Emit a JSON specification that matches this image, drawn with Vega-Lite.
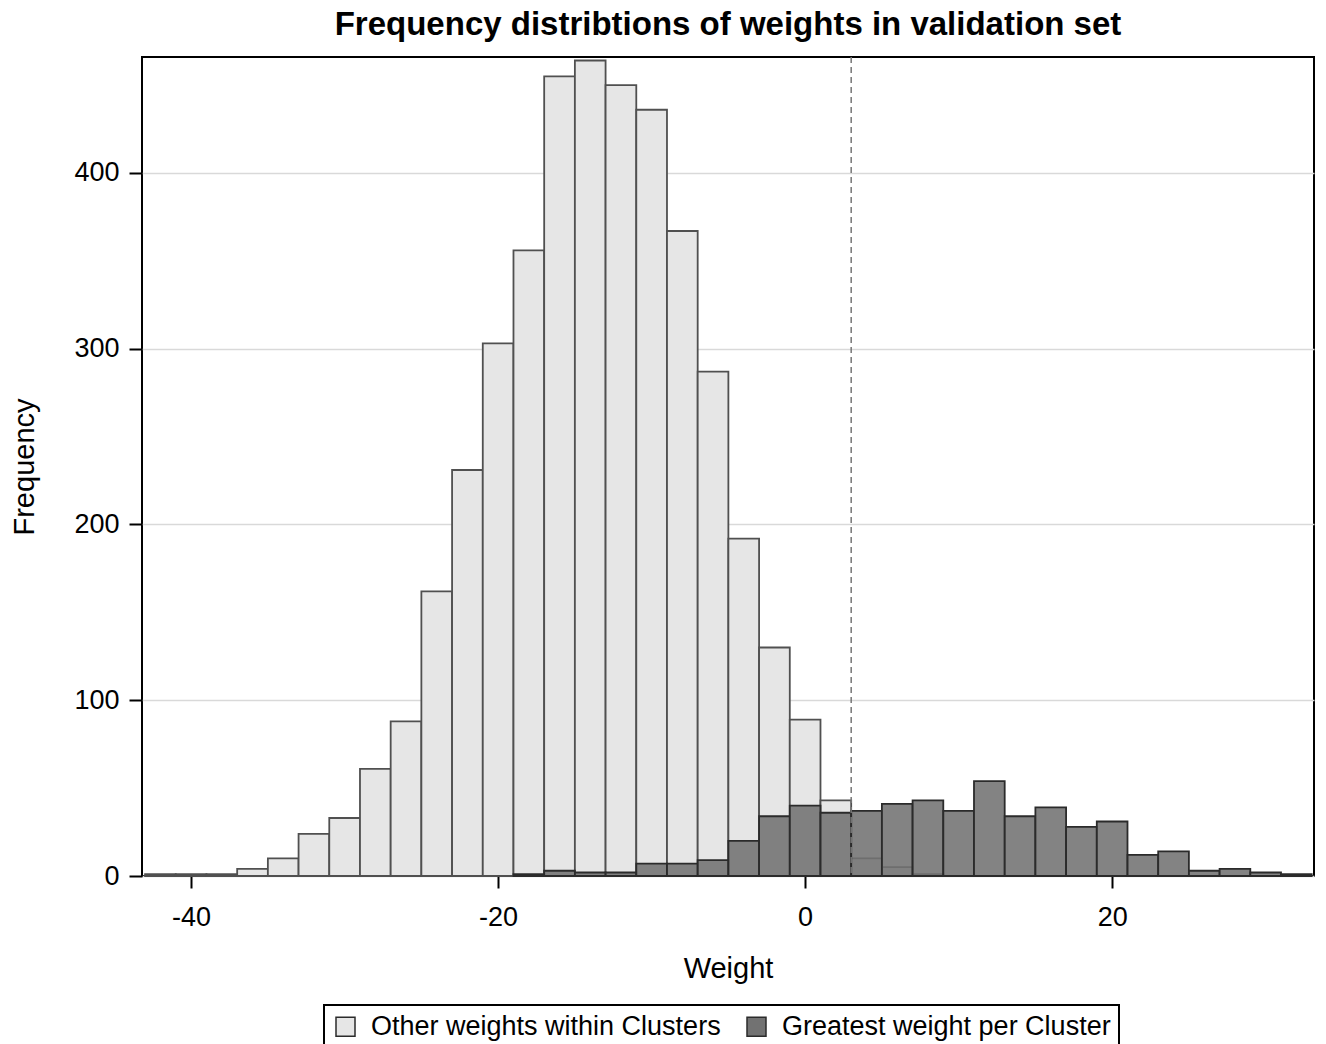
{
  "$schema": "https://vega.github.io/schema/vega-lite/v6.json",
  "width": 1172,
  "height": 819,
  "autosize": {"type": "none"},
  "padding": {"left": 142, "top": 57, "right": 12, "bottom": 168},
  "background": "white",
  "title": {
    "text": "Frequency distribtions of weights in validation set",
    "font": "Liberation Sans",
    "fontSize": 33,
    "fontWeight": "bold",
    "color": "#000",
    "anchor": "middle",
    "offset": 14
  },
  "config": {
    "view": {"stroke": "#000", "strokeWidth": 2},
    "axis": {
      "labelFont": "Liberation Sans",
      "labelFontSize": 27,
      "labelColor": "#000",
      "titleFont": "Liberation Sans",
      "titleFontSize": 29,
      "titleFontWeight": "normal",
      "titleColor": "#000",
      "tickColor": "#000",
      "tickWidth": 2,
      "domain": false,
      "labelFlush": false
    },
    "legend": {
      "strokeColor": "#000",
      "strokeWidth": 2
    }
  },
  "datasets": {
    "bars": [
      {"lo": -43, "hi": -41, "count": 1, "group": "Other weights within Clusters"},
      {"lo": -41, "hi": -39, "count": 1, "group": "Other weights within Clusters"},
      {"lo": -39, "hi": -37, "count": 1, "group": "Other weights within Clusters"},
      {"lo": -37, "hi": -35, "count": 4, "group": "Other weights within Clusters"},
      {"lo": -35, "hi": -33, "count": 10, "group": "Other weights within Clusters"},
      {"lo": -33, "hi": -31, "count": 24, "group": "Other weights within Clusters"},
      {"lo": -31, "hi": -29, "count": 33, "group": "Other weights within Clusters"},
      {"lo": -29, "hi": -27, "count": 61, "group": "Other weights within Clusters"},
      {"lo": -27, "hi": -25, "count": 88, "group": "Other weights within Clusters"},
      {"lo": -25, "hi": -23, "count": 162, "group": "Other weights within Clusters"},
      {"lo": -23, "hi": -21, "count": 231, "group": "Other weights within Clusters"},
      {"lo": -21, "hi": -19, "count": 303, "group": "Other weights within Clusters"},
      {"lo": -19, "hi": -17, "count": 356, "group": "Other weights within Clusters"},
      {"lo": -17, "hi": -15, "count": 455, "group": "Other weights within Clusters"},
      {"lo": -15, "hi": -13, "count": 464, "group": "Other weights within Clusters"},
      {"lo": -13, "hi": -11, "count": 450, "group": "Other weights within Clusters"},
      {"lo": -11, "hi": -9, "count": 436, "group": "Other weights within Clusters"},
      {"lo": -9, "hi": -7, "count": 367, "group": "Other weights within Clusters"},
      {"lo": -7, "hi": -5, "count": 287, "group": "Other weights within Clusters"},
      {"lo": -5, "hi": -3, "count": 192, "group": "Other weights within Clusters"},
      {"lo": -3, "hi": -1, "count": 130, "group": "Other weights within Clusters"},
      {"lo": -1, "hi": 1, "count": 89, "group": "Other weights within Clusters"},
      {"lo": 1, "hi": 3, "count": 43, "group": "Other weights within Clusters"},
      {"lo": 3, "hi": 5, "count": 10, "group": "Other weights within Clusters"},
      {"lo": 5, "hi": 7, "count": 5, "group": "Other weights within Clusters"},
      {"lo": 7, "hi": 9, "count": 1, "group": "Other weights within Clusters"},
      {"lo": -19, "hi": -17, "count": 1, "group": "Greatest weight per Cluster"},
      {"lo": -17, "hi": -15, "count": 3, "group": "Greatest weight per Cluster"},
      {"lo": -15, "hi": -13, "count": 2, "group": "Greatest weight per Cluster"},
      {"lo": -13, "hi": -11, "count": 2, "group": "Greatest weight per Cluster"},
      {"lo": -11, "hi": -9, "count": 7, "group": "Greatest weight per Cluster"},
      {"lo": -9, "hi": -7, "count": 7, "group": "Greatest weight per Cluster"},
      {"lo": -7, "hi": -5, "count": 9, "group": "Greatest weight per Cluster"},
      {"lo": -5, "hi": -3, "count": 20, "group": "Greatest weight per Cluster"},
      {"lo": -3, "hi": -1, "count": 34, "group": "Greatest weight per Cluster"},
      {"lo": -1, "hi": 1, "count": 40, "group": "Greatest weight per Cluster"},
      {"lo": 1, "hi": 3, "count": 36, "group": "Greatest weight per Cluster"},
      {"lo": 3, "hi": 5, "count": 37, "group": "Greatest weight per Cluster"},
      {"lo": 5, "hi": 7, "count": 41, "group": "Greatest weight per Cluster"},
      {"lo": 7, "hi": 9, "count": 43, "group": "Greatest weight per Cluster"},
      {"lo": 9, "hi": 11, "count": 37, "group": "Greatest weight per Cluster"},
      {"lo": 11, "hi": 13, "count": 54, "group": "Greatest weight per Cluster"},
      {"lo": 13, "hi": 15, "count": 34, "group": "Greatest weight per Cluster"},
      {"lo": 15, "hi": 17, "count": 39, "group": "Greatest weight per Cluster"},
      {"lo": 17, "hi": 19, "count": 28, "group": "Greatest weight per Cluster"},
      {"lo": 19, "hi": 21, "count": 31, "group": "Greatest weight per Cluster"},
      {"lo": 21, "hi": 23, "count": 12, "group": "Greatest weight per Cluster"},
      {"lo": 23, "hi": 25, "count": 14, "group": "Greatest weight per Cluster"},
      {"lo": 25, "hi": 27, "count": 3, "group": "Greatest weight per Cluster"},
      {"lo": 27, "hi": 29, "count": 4, "group": "Greatest weight per Cluster"},
      {"lo": 29, "hi": 31, "count": 2, "group": "Greatest weight per Cluster"},
      {"lo": 31, "hi": 33, "count": 1, "group": "Greatest weight per Cluster"}
    ],
    "ref": [{"x": 3}]
  },
  "layer": [
    {
      "data": {"name": "bars"},
      "transform": [{"filter": "datum.group === 'Other weights within Clusters'"}],
      "mark": {"type": "bar", "stroke": "#505050", "strokeWidth": 1.8},
      "encoding": {
        "x": {
          "field": "lo", "type": "quantitative",
          "scale": {"domain": [-43.2, 33.15], "nice": false, "zero": false, "padding": 0},
          "axis": {"values": [-40, -20, 0, 20], "tickSize": 12, "labelPadding": 16, "grid": false, "titlePadding": 24, "labelExpr": "toString(datum.value)"},
          "title": "Weight"
        },
        "x2": {"field": "hi"},
        "y": {
          "field": "count", "type": "quantitative",
          "scale": {"domain": [0, 466], "nice": false, "padding": 0},
          "axis": {"values": [0, 100, 200, 300, 400], "tickSize": 13, "labelPadding": 10, "grid": true, "gridColor": "#d9d9d9", "gridWidth": 1.5, "titlePadding": 34},
          "title": "Frequency"
        },
        "y2": {"datum": 0},
        "color": {
          "field": "group", "type": "nominal",
          "scale": {"domain": ["Other weights within Clusters", "Greatest weight per Cluster"], "range": ["#e6e6e6", "#727272"]},
          "legend": {
            "title": null,
            "orient": "none",
            "legendX": 182,
            "legendY": 948,
            "direction": "horizontal",
            "padding": 8,
            "labelFont": "Liberation Sans",
            "labelFontSize": 27,
            "labelColor": "#000",
            "labelLimit": 600,
            "labelOffset": 12,
            "columnPadding": 22,
            "symbolType": "square",
            "symbolSize": 361,
            "symbolStrokeColor": "#333",
            "symbolStrokeWidth": 1.5,
            "strokeColor": "#000"
          }
        }
      }
    },
    {
      "data": {"name": "bars"},
      "transform": [{"filter": "datum.group === 'Greatest weight per Cluster'"}],
      "mark": {"type": "bar", "stroke": "#2b2b2b", "strokeWidth": 1.8, "fillOpacity": 0.88},
      "encoding": {
        "x": {"field": "lo", "type": "quantitative"},
        "x2": {"field": "hi"},
        "y": {"field": "count", "type": "quantitative"},
        "y2": {"datum": 0},
        "color": {"field": "group", "type": "nominal"}
      }
    },
    {
      "data": {"name": "ref"},
      "mark": {"type": "rule", "color": "#777777", "strokeDash": [6, 4], "strokeWidth": 1.5},
      "encoding": {"x": {"field": "x", "type": "quantitative"}}
    }
  ]
}
